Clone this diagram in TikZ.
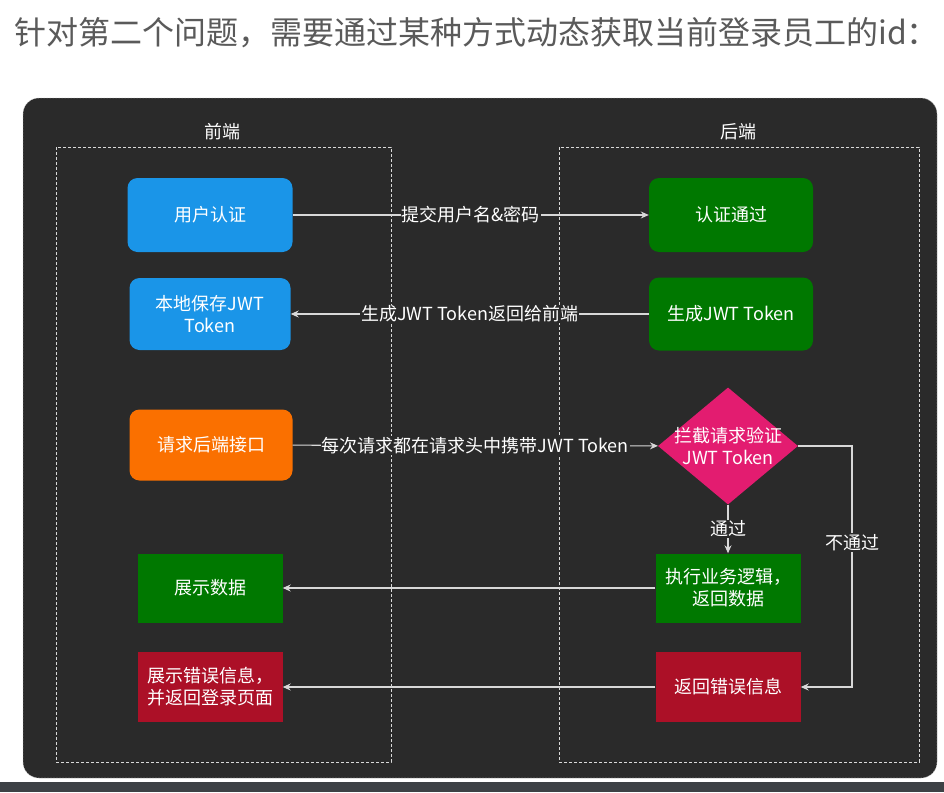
\documentclass[tikz,border=0pt]{standalone}
\usepackage{fontspec}
\setmainfont{Noto Sans CJK SC}
\usetikzlibrary{shapes.geometric,arrows.meta}

\definecolor{panelbg}{HTML}{2A2A2A}
\definecolor{linegray}{HTML}{D8D8D8}
\definecolor{titlegray}{HTML}{5A5A5A}
\definecolor{barcol}{HTML}{3D4145}
\definecolor{jwtblue}{HTML}{1A95E8}
\definecolor{okgreen}{HTML}{007800}
\definecolor{reqorange}{HTML}{FA7000}
\definecolor{checkpink}{HTML}{E31C70}
\definecolor{errred}{HTML}{AC1027}

\tikzset{
  txt/.style={text=white,align=center,inner sep=0pt,font=\fontsize{18}{22}\selectfont},
  rbox/.style={txt,rounded corners=10pt,minimum width=164pt,minimum height=73pt},
  sbox/.style={txt,minimum width=145pt,minimum height=69pt},
  area/.style={draw=white!85!black,line width=0.8pt,dash pattern=on 3pt off 2pt},
  link/.style={draw=linegray,line width=1.1pt,-{Stealth[length=8pt,width=7pt]}},
  lab/.style={txt,fill=panelbg,inner sep=1pt}
}

\begin{document}
\begin{tikzpicture}[x=1pt,y=-1pt]
  \useasboundingbox (0,0) rectangle (944,792);
  \fill[white] (0,0) rectangle (944,792);

  % title
  \node[anchor=west,inner sep=0pt,text=titlegray,font=\fontsize{32}{36}\selectfont] (title) at (14,33)
    {针对第二个问题，需要通过某种方式动态获取当前登录员工的id：};

  % dark panel and bottom bar
  \draw[fill=panelbg,draw=white!75!black,dash pattern=on 2pt off 1pt,rounded corners=16pt] (23,98) rectangle (937,778);
  \fill[barcol] (0,782) rectangle (944,792);

  % front / back areas
  \draw[area] (56,147) rectangle (391,762);
  \draw[area] (559,147) rectangle (919,762);
  \node[txt] (frontlabel) at (222,132) {前端};
  \node[txt] (backlabel) at (738,132) {后端};

  % front-end nodes
  \node[rbox,fill=jwtblue,minimum width=165pt,minimum height=74pt] (auth) at (210,215) {用户认证};
  \node[rbox,fill=jwtblue,minimum width=161pt,minimum height=72pt] (save) at (210,314) {本地保存JWT\\Token};
  \node[rbox,fill=reqorange,minimum width=163pt,minimum height=71pt] (req) at (211,445) {请求后端接口};
  \node[sbox,fill=okgreen] (show) at (210,588) {展示数据};
  \node[sbox,fill=errred,minimum height=70pt] (showerr) at (210,687) {展示错误信息，\\并返回登录页面};

  % back-end nodes
  \node[rbox,fill=okgreen,minimum height=74pt] (pass) at (731,215) {认证通过};
  \node[rbox,fill=okgreen] (gen) at (731,314) {生成JWT Token};
  \node[diamond,fill=checkpink,inner sep=0pt,minimum width=140pt,minimum height=117pt] (check) at (728,446) {};
  \node[txt] (checktext) at (check.center) {拦截请求验证\\JWT Token};
  \node[sbox,fill=okgreen] (exec) at (728,588) {执行业务逻辑，\\返回数据};
  \node[sbox,fill=errred,minimum height=70pt] (backerr) at (728,687) {返回错误信息};

  % connectors
  \draw[link] (auth) -- node[lab]{提交用户名\&密码} (pass);
  \draw[link] (gen) -- node[lab]{生成JWT Token返回给前端} (save);
  \draw[link] (req) -- node[lab]{每次请求都在请求头中携带JWT Token} (check);
  \draw[link] (check) -- node[lab]{通过} (exec);
  \coordinate (turn) at (852,446);
  \draw[link] (check.east) -- (turn) |- node[lab,pos=0.2]{不通过} (backerr.east);
  \draw[link] (exec) -- (show);
  \draw[link] (backerr) -- (showerr);
\end{tikzpicture}
\end{document}
